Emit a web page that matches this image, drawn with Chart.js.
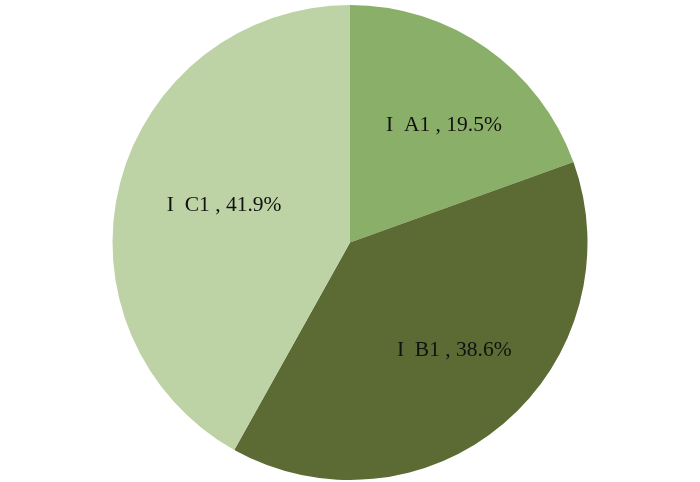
<!DOCTYPE html>
<html>
<head>
<meta charset="utf-8">
<script src="https://cdn.jsdelivr.net/npm/chart.js@4"></script>
<style>
  html, body { margin: 0; padding: 0; background: #fff; }
  #wrap { width: 700px; height: 482px; }
</style>
</head>
<body>
<div id="wrap"><canvas id="pie"></canvas></div>
<script>
// data
const categories = ['I  A1', 'I  B1', 'I  C1'];
const shares = [19.5, 38.6, 41.9];
const sliceColors = ['#8aaf68', '#5c6b34', '#bdd3a5'];

// draws "name , xx.x%" inside each slice
const sliceLabels = {
    id: 'sliceLabels',
    afterDatasetsDraw(chart) {
        const ctx = chart.ctx;
        const meta = chart.getDatasetMeta(0);
        ctx.save();
        ctx.font = '21.5px "Liberation Serif", "Times New Roman", serif';
        ctx.fillStyle = '#111';
        ctx.textAlign = 'center';
        ctx.textBaseline = 'middle';
        meta.data.forEach((arc, i) => {
            const p = arc.getProps(['x', 'y', 'startAngle', 'endAngle', 'outerRadius'], true);
            const mid = (p.startAngle + p.endAngle) / 2;
            const r = p.outerRadius * 0.6;
            // labels sit a bit right of the radial midpoint, like the original
            const tx = p.x + Math.cos(mid) * r + 12;
            const ty = p.y + Math.sin(mid) * r - 1;
            ctx.fillText(`${categories[i]} , ${shares[i].toFixed(1)}%`, tx, ty);
        });
        ctx.restore();
    }
};

new Chart(document.getElementById('pie'), {
    type: 'pie',
    data: {
        labels: categories,
        datasets: [{
            data: shares,
            backgroundColor: sliceColors,
            borderWidth: 0
        }]
    },
    options: {
        responsive: true,
        maintainAspectRatio: false,
        animation: false,
        layout: { padding: { top: 5, bottom: 2 } },
        plugins: { legend: { display: false }, tooltip: { enabled: false } }
    },
    plugins: [sliceLabels]
});
</script>
</body>
</html>
